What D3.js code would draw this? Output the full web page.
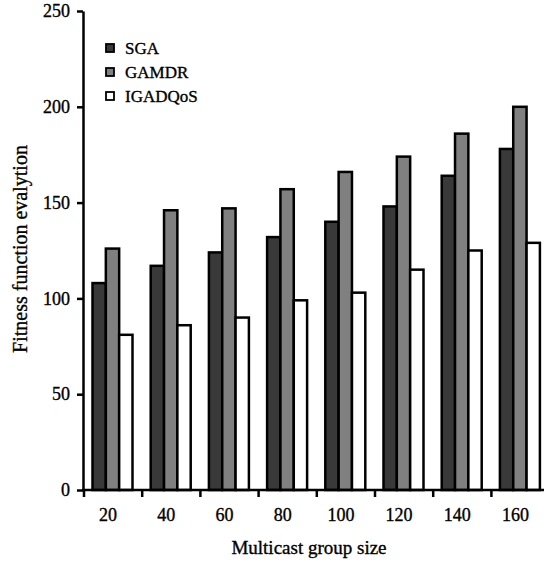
<!DOCTYPE html>
<html>
<head>
<meta charset="utf-8">
<script src="https://cdn.jsdelivr.net/npm/d3@7"></script>
<style>
  body { margin: 0; background: #fff; }
  text { font-family: "Liberation Serif", "Times New Roman", serif; fill: #000; stroke: #000; stroke-width: 0.35px; }
</style>
</head>
<body>
<svg id="chart"></svg>
<script>
// Chart data
const groupSizes = ['20', '40', '60', '80', '100', '120', '140', '160'];
const seriesNames = ['SGA', 'GAMDR', 'IGADQoS'];
const sgaValues = [108, 117, 124, 132, 140, 148, 164, 178];
const gamdrValues = [126, 146, 147, 157, 166, 174, 186, 200];
const igadqosValues = [81, 86, 90, 99, 103, 115, 125, 129];
const yTicks = [0, 50, 100, 150, 200, 250];

const seriesValues = [sgaValues, gamdrValues, igadqosValues];
const colors = ['#393939', '#808080', '#ffffff'];

const width = 546, height = 562;
const plotLeft = 84, plotTop = 11, plotBottom = 490, axisEnd = 544;

const svg = d3.select('#chart')
    .attr('width', width)
    .attr('height', height);

// Scales
const x = d3.scaleBand()
    .domain(groupSizes)
    .range([plotLeft, plotLeft + 8 * 58.2]);

const x1 = d3.scaleBand()
    .domain(seriesNames)
    .range([8.5, 48.5]);

const y = d3.scaleLinear()
    .domain([0, 250])
    .range([plotBottom, plotTop]);

// Bars
const rows = groupSizes.map((g, i) => ({ group: g, values: seriesNames.map((s, j) => ({ key: s, value: seriesValues[j][i], idx: j })) }));

svg.append('g')
    .selectAll('g')
    .data(rows)
    .join('g')
    .attr('transform', d => `translate(${x(d.group)},0)`)
    .selectAll('rect')
    .data(d => d.values)
    .join('rect')
    .attr('x', d => x1(d.key))
    .attr('y', d => y(d.value))
    .attr('width', x1.bandwidth())
    .attr('height', d => y(0) - y(d.value))
    .attr('fill', d => colors[d.idx])
    .attr('stroke', '#000')
    .attr('stroke-width', 2.5);

// Y axis
const yAxis = svg.append('g')
    .attr('transform', `translate(${plotLeft - 1},0)`)
    .call(d3.axisLeft(y).tickValues(yTicks).tickSize(6).tickPadding(7).tickSizeOuter(0));
yAxis.select('.domain').attr('stroke-width', 2.5);
yAxis.selectAll('.tick line').attr('stroke-width', 2.5);
yAxis.selectAll('.tick text').style('font-size', '18px');

// X axis: labels under each group, tick lines between groups
const xAxis = svg.append('g')
    .attr('transform', `translate(0,${plotBottom})`);
xAxis.append('line')
    .attr('x1', plotLeft - 2)
    .attr('x2', axisEnd)
    .attr('stroke', '#000')
    .attr('stroke-width', 2.5);
xAxis.selectAll('.xtick')
    .data(groupSizes)
    .join('line')
    .attr('class', 'xtick')
    .attr('x1', d => x(d))
    .attr('x2', d => x(d))
    .attr('y1', 0)
    .attr('y2', 7)
    .attr('stroke', '#000')
    .attr('stroke-width', 2.5);
xAxis.selectAll('.xlabel')
    .data(groupSizes)
    .join('text')
    .attr('class', 'xlabel')
    .attr('x', d => x(d) + x.bandwidth() / 2 - 5)
    .attr('y', 31)
    .attr('text-anchor', 'middle')
    .style('font-size', '18px')
    .text(d => d);

// Axis titles
svg.append('text')
    .attr('x', 309)
    .attr('y', 554)
    .attr('text-anchor', 'middle')
    .style('font-size', '19px')
    .text('Multicast group size');

svg.append('text')
    .attr('transform', 'rotate(-90)')
    .attr('x', -249)
    .attr('y', 27)
    .attr('text-anchor', 'middle')
    .style('font-size', '20px')
    .text('Fitness function evalytion');

// Legend
const legend = svg.append('g')
    .selectAll('g')
    .data(seriesNames)
    .join('g')
    .attr('transform', (d, i) => `translate(106,${48 + i * 24})`);
legend.append('rect')
    .attr('x', 0)
    .attr('y', -4)
    .attr('width', 8)
    .attr('height', 8)
    .attr('fill', (d, i) => colors[i])
    .attr('stroke', '#000')
    .attr('stroke-width', 1.8);
legend.append('text')
    .attr('x', 19)
    .attr('y', 6)
    .style('font-size', '17px')
    .text(d => d);
</script>
</body>
</html>
